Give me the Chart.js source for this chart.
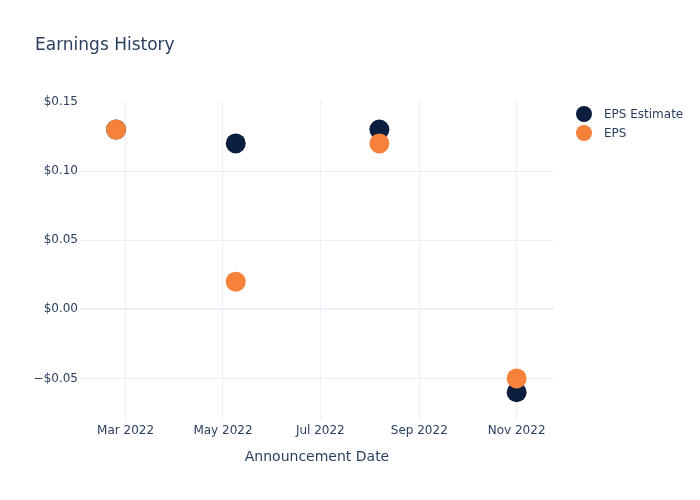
<!DOCTYPE html>
<html>
<head>
<meta charset="utf-8">
<script src="https://cdn.jsdelivr.net/npm/chart.js@4/dist/chart.umd.min.js"></script>
<style>
    body { margin: 0; background: #fff; }
    #wrap { position: relative; width: 700px; height: 500px; }
    #legend { position: absolute; left: 576px; top: 104.5px; font: 12px "DejaVu Sans", sans-serif; color: #2a3f5f; }
    #legend .item { display: flex; align-items: center; height: 19px; }
    #legend .dot { width: 16px; height: 16px; border-radius: 50%; margin-right: 12px; }
</style>
</head>
<body>
<div id="wrap">
    <canvas id="chart" width="700" height="500"></canvas>
    <div id="legend"></div>
</div>
<script>
    // Ngày công bố và giá trị EPS
    const dates = ["2022-02-23", "2022-05-09", "2022-08-07", "2022-11-01"];
    const epsEstimate = [0.13, 0.12, 0.13, -0.06];
    const epsActual = [0.13, 0.02, 0.12, -0.05];

    // Nhãn trục x
    const tickDates = ["2022-03-01", "2022-05-01", "2022-07-01", "2022-09-01", "2022-11-01"];
    const tickLabels = ["Mar 2022", "May 2022", "Jul 2022", "Sep 2022", "Nov 2022"];

    const navy = "#0b1e3e";
    const orange = "#f5813a";
    const textColor = "#2a3f5f";
    const gridColor = "#ebf0f8";
    const fontFamily = "'DejaVu Sans'";

    const toPoints = (vals) => vals.map((v, i) => ({ x: Date.parse(dates[i]), y: v }));

    const chart = new Chart(document.getElementById("chart"), {
        type: "scatter",
        data: {
            datasets: [{
                label: "EPS Estimate",
                data: toPoints(epsEstimate),
                backgroundColor: navy,
                borderColor: navy,
                pointRadius: 10,
                borderWidth: 0,
                order: 1
            }, {
                label: "EPS",
                data: toPoints(epsActual),
                backgroundColor: orange,
                borderColor: orange,
                pointRadius: 10,
                borderWidth: 0,
                order: 0
            }]
        },
        options: {
            responsive: false,
            animation: false,
            events: [],
            layout: { padding: { left: 35, right: 146, top: 0, bottom: 34.6 } },
            plugins: {
                legend: { display: false },
                tooltip: { enabled: false },
                title: {
                    display: true,
                    text: "Earnings History",
                    align: "start",
                    color: textColor,
                    font: { family: fontFamily, size: 17, weight: "normal" },
                    padding: { top: 35, bottom: 45.6 }
                }
            },
            scales: {
                x: {
                    type: "linear",
                    min: Date.UTC(2022, 0, 31, 10),
                    max: Date.UTC(2022, 10, 24, 10),
                    afterBuildTicks: (scale) => {
                        scale.ticks = tickDates.map(d => ({ value: Date.parse(d) }));
                    },
                    ticks: {
                        autoSkip: false,
                        maxRotation: 0,
                        padding: 3,
                        color: textColor,
                        font: { family: fontFamily, size: 12 },
                        callback: (value, index) => tickLabels[index]
                    },
                    grid: { color: gridColor, drawTicks: false },
                    border: { display: false },
                    title: {
                        display: true,
                        text: "Announcement Date",
                        color: textColor,
                        font: { family: fontFamily, size: 14 },
                        padding: { top: 7.2, bottom: 0 }
                    }
                },
                y: {
                    min: -0.0808,
                    max: 0.1507,
                    afterFit: (scale) => { scale.width = 45; },
                    ticks: {
                        stepSize: 0.05,
                        includeBounds: false,
                        padding: 2,
                        color: textColor,
                        font: { family: fontFamily, size: 12 },
                        callback: (v) => (v < 0 ? "\u2212$" : "$") + Math.abs(v).toFixed(2)
                    },
                    grid: {
                        drawTicks: false,
                        color: (ctx) => (ctx.tick && Math.abs(ctx.tick.value - 0.15) < 1e-9) ? "rgba(0,0,0,0)" : gridColor,
                        lineWidth: (ctx) => (ctx.tick && Math.abs(ctx.tick.value) < 1e-9) ? 2 : 1
                    },
                    border: { display: false }
                }
            }
        }
    });

    // Chú thích dạng HTML
    const legendDiv = document.getElementById("legend");
    chart.data.datasets.forEach(ds => {
        const item = document.createElement("div");
        item.className = "item";
        item.innerHTML = `<span class="dot" style="background:${ds.backgroundColor}"></span><span>${ds.label}</span>`;
        legendDiv.appendChild(item);
    });
</script>
</body>
</html>
